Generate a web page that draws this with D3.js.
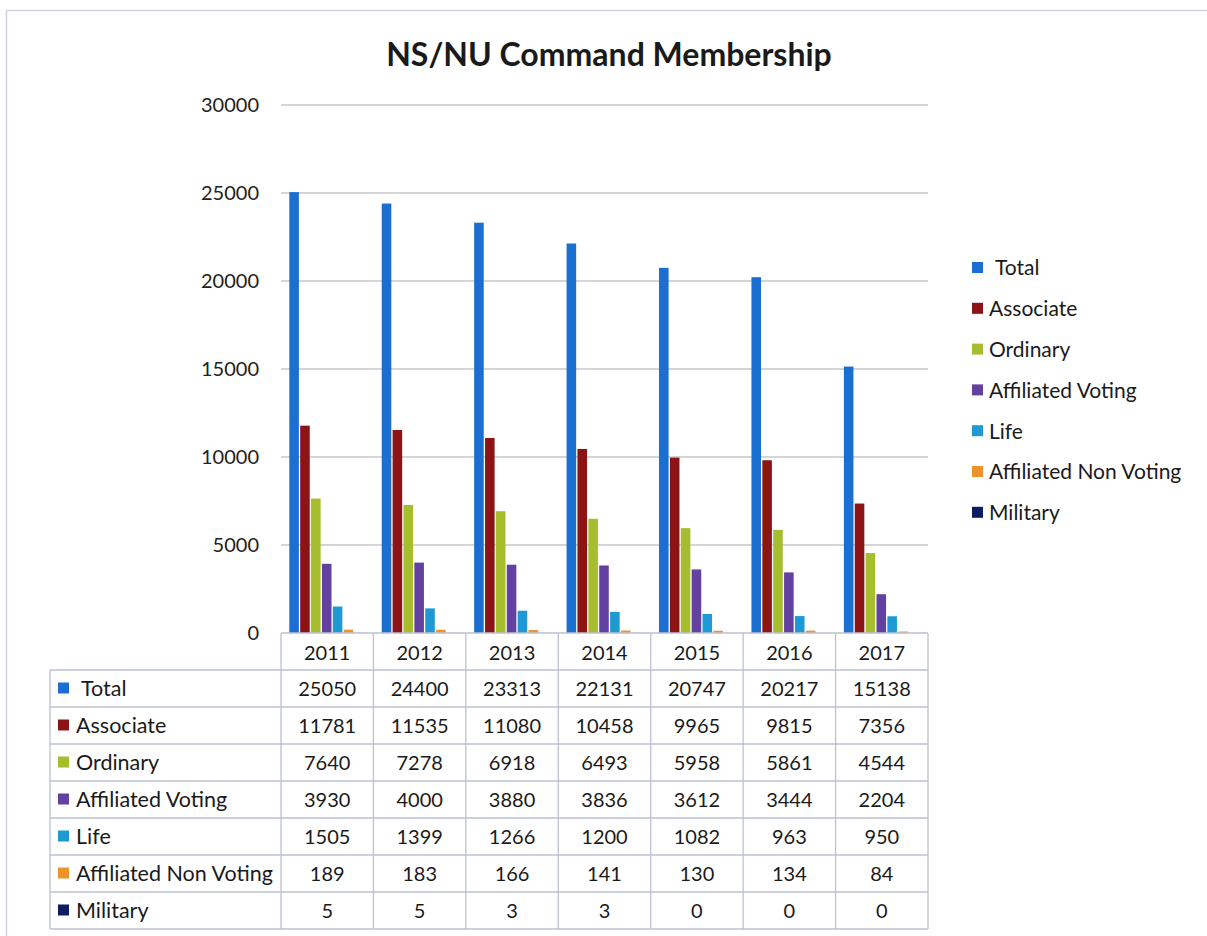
<!DOCTYPE html>
<html>
<head>
<meta charset="utf-8">
<script src="https://cdn.jsdelivr.net/npm/d3@7"></script>
<style>
  body { margin: 0; background: #fff; }
  svg { display: block; font-family: Lato, "Open Sans", sans-serif; }
</style>
</head>
<body>
<svg id="chart" width="1207" height="936"></svg>
<script>
const years = ['2011', '2012', '2013', '2014', '2015', '2016', '2017']
const seriesNames = ['Total', 'Associate', 'Ordinary', 'Affiliated Voting', 'Life', 'Affiliated Non Voting', 'Military']
const seriesColors = ['#1b6fd1', '#8c1414', '#a6bd2e', '#6341a0', '#1d9ad3', '#f0922c', '#0e1d63']

const total = [25050, 24400, 23313, 22131, 20747, 20217, 15138]
const associate = [11781, 11535, 11080, 10458, 9965, 9815, 7356]
const ordinary = [7640, 7278, 6918, 6493, 5958, 5861, 4544]
const affiliatedVoting = [3930, 4000, 3880, 3836, 3612, 3444, 2204]
const life = [1505, 1399, 1266, 1200, 1082, 963, 950]
const affiliatedNonVoting = [189, 183, 166, 141, 130, 134, 84]
const military = [5, 5, 3, 3, 0, 0, 0]

const yTicks = [0, 5000, 10000, 15000, 20000, 25000, 30000]

const seriesValues = [total, associate, ordinary, affiliatedVoting, life, affiliatedNonVoting, military]

const svg = d3.select('#chart')

// frame of the scanned chart
svg.append('path')
    .attr('d', 'M6.5,936 V10.5 H1207')
    .attr('fill', 'none')
    .attr('stroke', '#cfd3de')
    .attr('stroke-width', 1.5)

svg.append('text')
    .attr('x', 609)
    .attr('y', 66)
    .attr('text-anchor', 'middle')
    .attr('font-size', 32)
    .attr('font-weight', 'bold')
    .attr('fill', '#1a1a1a')
    .text('NS/NU Command Membership')

const plotLeft = 281, plotRight = 928, plotTop = 105, plotBottom = 633

const x = d3.scaleBand().domain(years).range([plotLeft, plotRight]).paddingInner(0).paddingOuter(0)
const xs = d3.scaleBand().domain(seriesNames).range([7, x.bandwidth() - 8]).padding(0.12)
const y = d3.scaleLinear().domain([0, 30000]).range([plotBottom, plotTop])

// gridlines
svg.append('g')
    .selectAll('line')
    .data(yTicks.filter(d => d > 0))
    .enter()
    .append('line')
    .attr('x1', plotLeft)
    .attr('x2', plotRight)
    .attr('y1', d => y(d))
    .attr('y2', d => y(d))
    .attr('stroke', '#a9acb4')
    .attr('stroke-width', 1.2)

// y axis labels
const yAxis = d3.axisLeft(y).tickValues(yTicks).tickSize(0).tickPadding(22).tickFormat(d3.format('d'))
const yg = svg.append('g').attr('transform', `translate(${plotLeft},0)`).call(yAxis)
yg.select('.domain').remove()
yg.selectAll('text')
    .attr('font-size', 20)
    .attr('font-family', 'Lato, sans-serif')
    .attr('fill', '#222')

// bars
const groups = svg.append('g')
    .selectAll('g')
    .data(years)
    .enter()
    .append('g')
    .attr('transform', d => `translate(${x(d)},0)`)

groups.selectAll('rect')
    .data((d, i) => seriesNames.map((s, j) => ({ s: s, v: seriesValues[j][i], c: seriesColors[j] })))
    .enter()
    .append('rect')
    .attr('x', d => xs(d.s))
    .attr('width', xs.bandwidth())
    .attr('y', d => y(d.v))
    .attr('height', d => plotBottom - y(d.v))
    .attr('fill', d => d.c)

// legend on the right
const legend = svg.append('g')
    .selectAll('g')
    .data(seriesNames)
    .enter()
    .append('g')
    .attr('transform', (d, i) => `translate(972,${268 + i * 40.8})`)

legend.append('rect')
    .attr('x', 0)
    .attr('y', -6)
    .attr('width', 11)
    .attr('height', 11)
    .attr('fill', (d, i) => seriesColors[i])

legend.append('text')
    .attr('x', (d, i) => i === 0 ? 23 : 17)
    .attr('y', 0)
    .attr('dy', '0.35em')
    .attr('font-size', 21)
    .attr('fill', '#1a1a1a')
    .text(d => d)

// data table
const tableLeft = 50, headerTop = 633, rowH = 37
const tableBottom = headerTop + rowH + seriesNames.length * rowH
const lineColor = '#bcc1d2'
const table = svg.append('g')

table.append('path')
    .attr('d', `M${plotLeft},${headerTop} H${plotRight} M${plotLeft},${headerTop} V${tableBottom} M${plotRight},${headerTop} V${tableBottom}`)
    .attr('stroke', lineColor)
    .attr('fill', 'none')
    .attr('stroke-width', 1.3)

table.selectAll('.vline')
    .data(years.slice(1))
    .enter()
    .append('line')
    .attr('x1', d => x(d))
    .attr('x2', d => x(d))
    .attr('y1', headerTop)
    .attr('y2', tableBottom)
    .attr('stroke', lineColor)
    .attr('stroke-width', 1.3)

table.selectAll('.hline')
    .data(d3.range(seriesNames.length + 1))
    .enter()
    .append('line')
    .attr('x1', tableLeft)
    .attr('x2', plotRight)
    .attr('y1', i => headerTop + rowH * (i + 1))
    .attr('y2', i => headerTop + rowH * (i + 1))
    .attr('stroke', lineColor)
    .attr('stroke-width', 1.3)

table.append('line')
    .attr('x1', tableLeft)
    .attr('x2', tableLeft)
    .attr('y1', headerTop + rowH)
    .attr('y2', tableBottom)
    .attr('stroke', lineColor)
    .attr('stroke-width', 1.3)

table.selectAll('.year')
    .data(years)
    .enter()
    .append('text')
    .attr('x', d => x(d) + x.bandwidth() / 2)
    .attr('y', headerTop + rowH / 2 + 1)
    .attr('dy', '0.35em')
    .attr('text-anchor', 'middle')
    .attr('font-size', 20)
    .attr('fill', '#1a1a1a')
    .text(d => d)

const rows = table.selectAll('.row')
    .data(seriesNames)
    .enter()
    .append('g')
    .attr('transform', (d, i) => `translate(0,${headerTop + rowH * (i + 1) + rowH / 2})`)

rows.append('rect')
    .attr('x', 58)
    .attr('y', -6)
    .attr('width', 11)
    .attr('height', 11)
    .attr('fill', (d, i) => seriesColors[i])

rows.append('text')
    .attr('x', (d, i) => i === 0 ? 81 : 76)
    .attr('dy', '0.35em')
    .attr('font-size', 21.5)
    .attr('fill', '#1a1a1a')
    .text(d => d)

rows.selectAll('.val')
    .data((d, i) => seriesValues[i].map((v, k) => ({ v: v, year: years[k] })))
    .enter()
    .append('text')
    .attr('x', d => x(d.year) + x.bandwidth() / 2)
    .attr('dy', '0.35em')
    .attr('text-anchor', 'middle')
    .attr('font-size', 20)
    .attr('fill', '#1a1a1a')
    .text(d => d.v)
</script>
</body>
</html>
